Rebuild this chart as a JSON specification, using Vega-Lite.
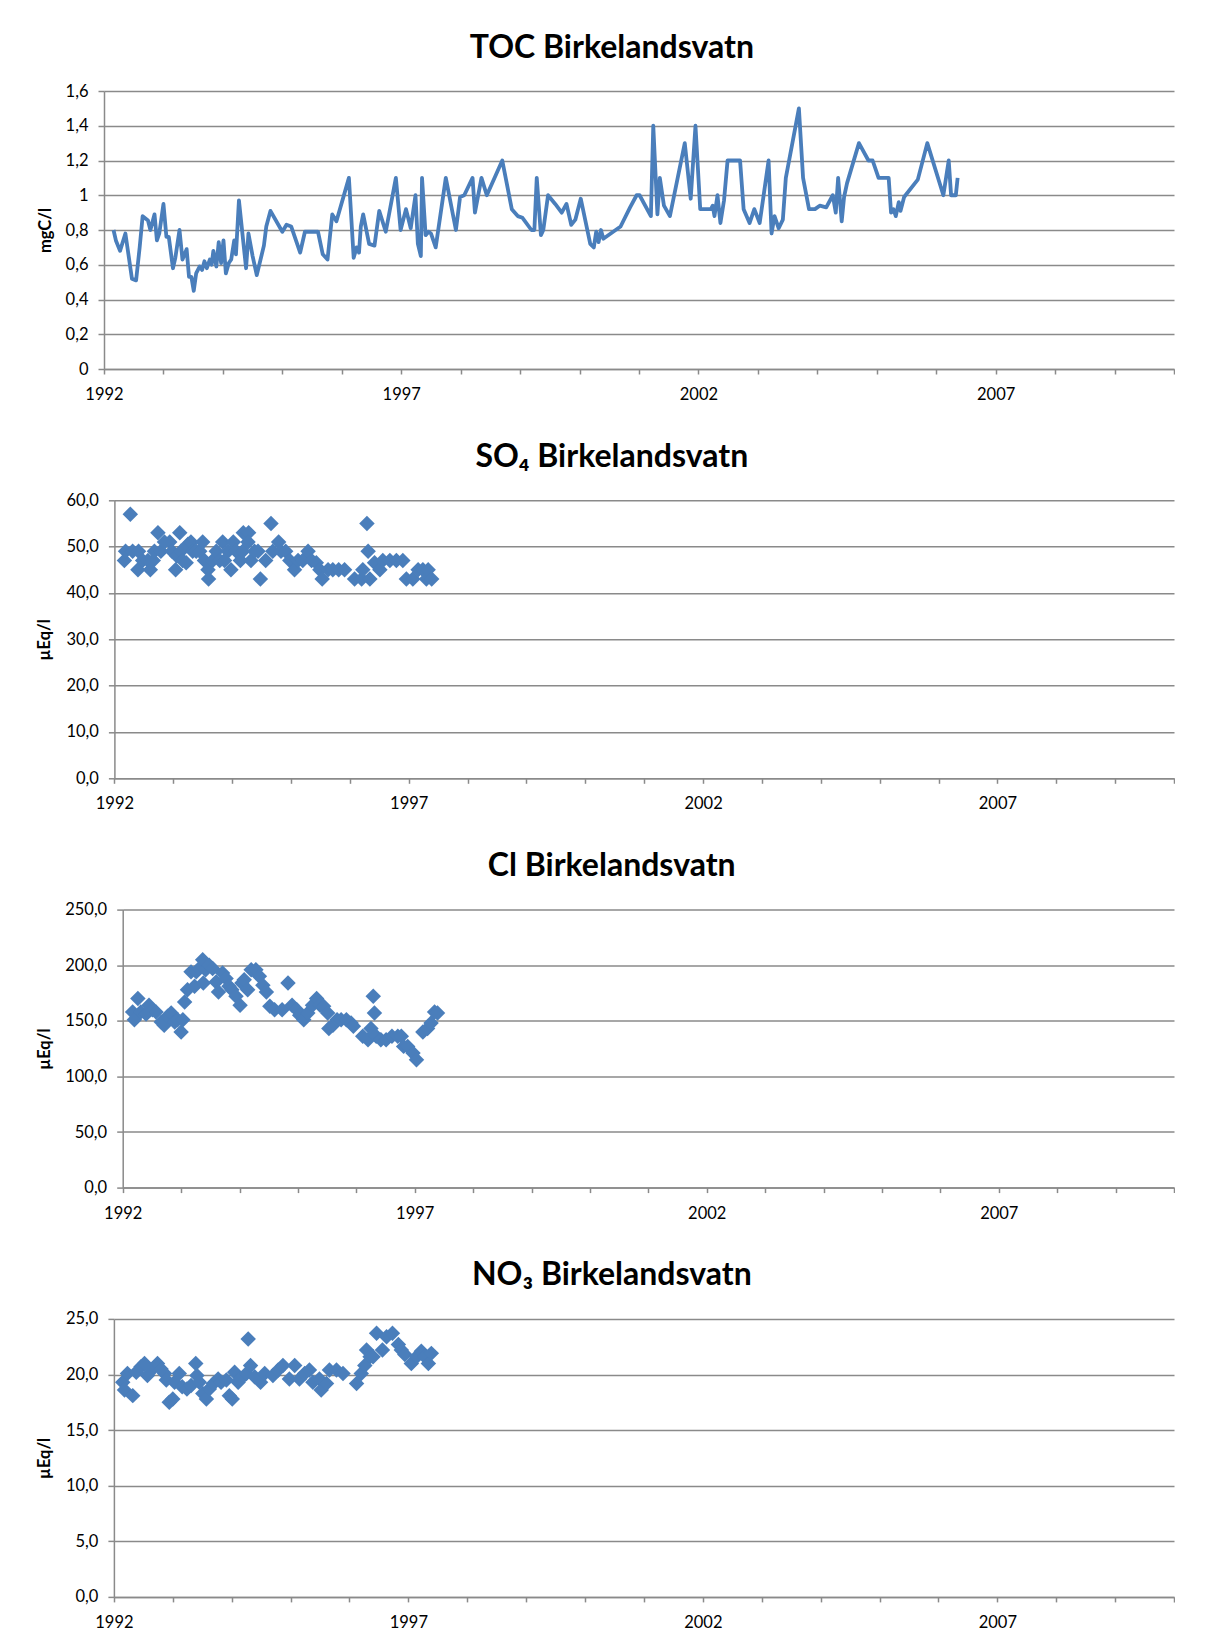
{
  "$schema": "https://vega.github.io/schema/vega-lite/v6.json",
  "background": "white",
  "padding": {"left": 36, "top": 31, "right": 0, "bottom": 0},
  "spacing": 37.3,
  "datasets": {
    "toc": [
      {"year": 1992.16, "value": 0.80}, {"year": 1992.20, "value": 0.74}, {"year": 1992.27, "value": 0.68}, {"year": 1992.36, "value": 0.78},
      {"year": 1992.47, "value": 0.52}, {"year": 1992.54, "value": 0.51}, {"year": 1992.60, "value": 0.70}, {"year": 1992.65, "value": 0.88},
      {"year": 1992.74, "value": 0.855}, {"year": 1992.78, "value": 0.80}, {"year": 1992.85, "value": 0.89}, {"year": 1992.89, "value": 0.74},
      {"year": 1992.93, "value": 0.78}, {"year": 1993.00, "value": 0.95}, {"year": 1993.05, "value": 0.76}, {"year": 1993.09, "value": 0.76},
      {"year": 1993.16, "value": 0.58}, {"year": 1993.20, "value": 0.64}, {"year": 1993.27, "value": 0.80}, {"year": 1993.32, "value": 0.63},
      {"year": 1993.39, "value": 0.69}, {"year": 1993.43, "value": 0.53}, {"year": 1993.47, "value": 0.53}, {"year": 1993.51, "value": 0.45},
      {"year": 1993.55, "value": 0.55}, {"year": 1993.61, "value": 0.59}, {"year": 1993.65, "value": 0.57}, {"year": 1993.69, "value": 0.62},
      {"year": 1993.73, "value": 0.58}, {"year": 1993.78, "value": 0.63}, {"year": 1993.81, "value": 0.60}, {"year": 1993.84, "value": 0.68},
      {"year": 1993.89, "value": 0.59}, {"year": 1993.93, "value": 0.73}, {"year": 1993.97, "value": 0.61}, {"year": 1994.01, "value": 0.74},
      {"year": 1994.05, "value": 0.55}, {"year": 1994.10, "value": 0.61}, {"year": 1994.14, "value": 0.63}, {"year": 1994.19, "value": 0.74},
      {"year": 1994.22, "value": 0.66}, {"year": 1994.27, "value": 0.97}, {"year": 1994.39, "value": 0.58}, {"year": 1994.43, "value": 0.78},
      {"year": 1994.50, "value": 0.65}, {"year": 1994.57, "value": 0.54}, {"year": 1994.69, "value": 0.71}, {"year": 1994.73, "value": 0.82},
      {"year": 1994.80, "value": 0.91}, {"year": 1995.00, "value": 0.79}, {"year": 1995.07, "value": 0.83}, {"year": 1995.15, "value": 0.82},
      {"year": 1995.30, "value": 0.67}, {"year": 1995.38, "value": 0.79}, {"year": 1995.45, "value": 0.79}, {"year": 1995.60, "value": 0.79},
      {"year": 1995.68, "value": 0.66}, {"year": 1995.76, "value": 0.63}, {"year": 1995.84, "value": 0.89}, {"year": 1995.91, "value": 0.85},
      {"year": 1996.12, "value": 1.10}, {"year": 1996.20, "value": 0.64}, {"year": 1996.25, "value": 0.70}, {"year": 1996.29, "value": 0.67},
      {"year": 1996.32, "value": 0.82}, {"year": 1996.36, "value": 0.89}, {"year": 1996.46, "value": 0.72}, {"year": 1996.55, "value": 0.71},
      {"year": 1996.63, "value": 0.91}, {"year": 1996.74, "value": 0.79}, {"year": 1996.91, "value": 1.10}, {"year": 1996.99, "value": 0.80},
      {"year": 1997.08, "value": 0.92}, {"year": 1997.16, "value": 0.81}, {"year": 1997.24, "value": 1.00}, {"year": 1997.28, "value": 0.72},
      {"year": 1997.33, "value": 0.65}, {"year": 1997.35, "value": 1.10}, {"year": 1997.41, "value": 0.77}, {"year": 1997.46, "value": 0.79},
      {"year": 1997.50, "value": 0.78}, {"year": 1997.58, "value": 0.70}, {"year": 1997.75, "value": 1.10}, {"year": 1997.92, "value": 0.80},
      {"year": 1997.99, "value": 0.99}, {"year": 1998.06, "value": 1.00}, {"year": 1998.20, "value": 1.10}, {"year": 1998.24, "value": 0.90},
      {"year": 1998.35, "value": 1.10}, {"year": 1998.44, "value": 1.00}, {"year": 1998.70, "value": 1.20}, {"year": 1998.86, "value": 0.92},
      {"year": 1998.96, "value": 0.88}, {"year": 1999.04, "value": 0.87}, {"year": 1999.19, "value": 0.80}, {"year": 1999.24, "value": 0.80},
      {"year": 1999.28, "value": 1.10}, {"year": 1999.35, "value": 0.77}, {"year": 1999.39, "value": 0.80}, {"year": 1999.47, "value": 1.00},
      {"year": 1999.59, "value": 0.95}, {"year": 1999.70, "value": 0.90}, {"year": 1999.78, "value": 0.95}, {"year": 1999.86, "value": 0.83},
      {"year": 1999.93, "value": 0.86}, {"year": 2000.02, "value": 0.98}, {"year": 2000.18, "value": 0.72}, {"year": 2000.24, "value": 0.70},
      {"year": 2000.28, "value": 0.79}, {"year": 2000.32, "value": 0.73}, {"year": 2000.36, "value": 0.80}, {"year": 2000.40, "value": 0.75},
      {"year": 2000.69, "value": 0.82}, {"year": 2000.85, "value": 0.93}, {"year": 2000.96, "value": 1.00}, {"year": 2001.01, "value": 1.00},
      {"year": 2001.20, "value": 0.88}, {"year": 2001.24, "value": 1.40}, {"year": 2001.31, "value": 0.89}, {"year": 2001.35, "value": 1.10},
      {"year": 2001.42, "value": 0.94}, {"year": 2001.52, "value": 0.88}, {"year": 2001.77, "value": 1.30}, {"year": 2001.87, "value": 0.98},
      {"year": 2001.95, "value": 1.40}, {"year": 2002.03, "value": 0.92}, {"year": 2002.21, "value": 0.92}, {"year": 2002.24, "value": 0.94},
      {"year": 2002.27, "value": 0.88}, {"year": 2002.32, "value": 1.00}, {"year": 2002.37, "value": 0.84}, {"year": 2002.43, "value": 0.97},
      {"year": 2002.49, "value": 1.20}, {"year": 2002.70, "value": 1.20}, {"year": 2002.76, "value": 0.92}, {"year": 2002.86, "value": 0.84},
      {"year": 2002.94, "value": 0.92}, {"year": 2003.03, "value": 0.84}, {"year": 2003.18, "value": 1.20}, {"year": 2003.23, "value": 0.78},
      {"year": 2003.28, "value": 0.88}, {"year": 2003.35, "value": 0.81}, {"year": 2003.42, "value": 0.86}, {"year": 2003.47, "value": 1.10},
      {"year": 2003.69, "value": 1.50}, {"year": 2003.76, "value": 1.10}, {"year": 2003.86, "value": 0.92}, {"year": 2003.96, "value": 0.92},
      {"year": 2004.04, "value": 0.94}, {"year": 2004.15, "value": 0.93}, {"year": 2004.26, "value": 1.00}, {"year": 2004.31, "value": 0.90},
      {"year": 2004.35, "value": 1.10}, {"year": 2004.41, "value": 0.85}, {"year": 2004.45, "value": 0.99}, {"year": 2004.50, "value": 1.07},
      {"year": 2004.70, "value": 1.30}, {"year": 2004.86, "value": 1.20}, {"year": 2004.93, "value": 1.20}, {"year": 2005.03, "value": 1.10},
      {"year": 2005.20, "value": 1.10}, {"year": 2005.24, "value": 0.90}, {"year": 2005.28, "value": 0.92}, {"year": 2005.32, "value": 0.88},
      {"year": 2005.37, "value": 0.96}, {"year": 2005.40, "value": 0.91}, {"year": 2005.46, "value": 0.99}, {"year": 2005.69, "value": 1.09},
      {"year": 2005.85, "value": 1.30}, {"year": 2006.12, "value": 1.00}, {"year": 2006.21, "value": 1.20}, {"year": 2006.25, "value": 1.00},
      {"year": 2006.33, "value": 1.00}, {"year": 2006.36, "value": 1.10}
    ],
    "so4": [
      {"year": 1992.17, "value": 47}, {"year": 1992.27, "value": 57}, {"year": 1992.19, "value": 49}, {"year": 1992.31, "value": 49},
      {"year": 1992.41, "value": 49}, {"year": 1992.40, "value": 45}, {"year": 1992.48, "value": 47}, {"year": 1992.57, "value": 47},
      {"year": 1992.61, "value": 45}, {"year": 1992.66, "value": 47}, {"year": 1992.68, "value": 49}, {"year": 1992.74, "value": 53},
      {"year": 1992.79, "value": 49}, {"year": 1992.85, "value": 51}, {"year": 1992.94, "value": 51}, {"year": 1992.98, "value": 49},
      {"year": 1993.04, "value": 45}, {"year": 1993.06, "value": 48}, {"year": 1993.11, "value": 53}, {"year": 1993.13, "value": 49},
      {"year": 1993.16, "value": 47}, {"year": 1993.22, "value": 46.5}, {"year": 1993.25, "value": 50.5}, {"year": 1993.30, "value": 51},
      {"year": 1993.33, "value": 49}, {"year": 1993.39, "value": 49}, {"year": 1993.45, "value": 49}, {"year": 1993.50, "value": 51},
      {"year": 1993.53, "value": 47}, {"year": 1993.59, "value": 45}, {"year": 1993.60, "value": 43}, {"year": 1993.67, "value": 47},
      {"year": 1993.73, "value": 49}, {"year": 1993.79, "value": 47}, {"year": 1993.84, "value": 51}, {"year": 1993.87, "value": 47},
      {"year": 1993.93, "value": 49}, {"year": 1993.98, "value": 45}, {"year": 1994.02, "value": 51}, {"year": 1994.07, "value": 49},
      {"year": 1994.14, "value": 47}, {"year": 1994.18, "value": 49}, {"year": 1994.19, "value": 53}, {"year": 1994.28, "value": 53},
      {"year": 1994.27, "value": 51}, {"year": 1994.32, "value": 47}, {"year": 1994.38, "value": 49}, {"year": 1994.44, "value": 49},
      {"year": 1994.48, "value": 43}, {"year": 1994.57, "value": 47}, {"year": 1994.66, "value": 55}, {"year": 1994.69, "value": 49},
      {"year": 1994.79, "value": 51}, {"year": 1994.83, "value": 49}, {"year": 1994.91, "value": 49}, {"year": 1994.98, "value": 47},
      {"year": 1995.06, "value": 45}, {"year": 1995.12, "value": 47}, {"year": 1995.20, "value": 47}, {"year": 1995.29, "value": 49},
      {"year": 1995.35, "value": 47}, {"year": 1995.43, "value": 46.5}, {"year": 1995.49, "value": 45}, {"year": 1995.53, "value": 43},
      {"year": 1995.63, "value": 45}, {"year": 1995.71, "value": 45}, {"year": 1995.81, "value": 45}, {"year": 1995.91, "value": 45},
      {"year": 1996.08, "value": 43}, {"year": 1996.20, "value": 43}, {"year": 1996.22, "value": 45}, {"year": 1996.29, "value": 55},
      {"year": 1996.31, "value": 49}, {"year": 1996.34, "value": 43}, {"year": 1996.42, "value": 46.5}, {"year": 1996.51, "value": 45},
      {"year": 1996.56, "value": 47}, {"year": 1996.68, "value": 47}, {"year": 1996.79, "value": 47}, {"year": 1996.90, "value": 47},
      {"year": 1996.96, "value": 43}, {"year": 1997.07, "value": 43}, {"year": 1997.16, "value": 45}, {"year": 1997.24, "value": 45},
      {"year": 1997.30, "value": 43}, {"year": 1997.33, "value": 45}, {"year": 1997.39, "value": 43}
    ],
    "cl": [
      {"year": 1992.17, "value": 158}, {"year": 1992.20, "value": 151}, {"year": 1992.26, "value": 170}, {"year": 1992.31, "value": 158},
      {"year": 1992.40, "value": 156}, {"year": 1992.45, "value": 164}, {"year": 1992.51, "value": 160}, {"year": 1992.57, "value": 158},
      {"year": 1992.66, "value": 149}, {"year": 1992.71, "value": 146}, {"year": 1992.77, "value": 154}, {"year": 1992.83, "value": 157},
      {"year": 1992.89, "value": 149}, {"year": 1992.94, "value": 151}, {"year": 1993.00, "value": 140}, {"year": 1993.03, "value": 151},
      {"year": 1993.06, "value": 167}, {"year": 1993.11, "value": 178}, {"year": 1993.17, "value": 194}, {"year": 1993.23, "value": 181},
      {"year": 1993.26, "value": 194}, {"year": 1993.31, "value": 197}, {"year": 1993.37, "value": 205}, {"year": 1993.38, "value": 184},
      {"year": 1993.42, "value": 196}, {"year": 1993.48, "value": 200}, {"year": 1993.54, "value": 197}, {"year": 1993.60, "value": 185},
      {"year": 1993.64, "value": 176}, {"year": 1993.71, "value": 193}, {"year": 1993.77, "value": 188}, {"year": 1993.82, "value": 181},
      {"year": 1993.87, "value": 178}, {"year": 1993.94, "value": 172}, {"year": 1994.01, "value": 164}, {"year": 1994.04, "value": 184},
      {"year": 1994.08, "value": 187}, {"year": 1994.14, "value": 178}, {"year": 1994.20, "value": 196}, {"year": 1994.28, "value": 196},
      {"year": 1994.34, "value": 190}, {"year": 1994.40, "value": 182}, {"year": 1994.46, "value": 176}, {"year": 1994.52, "value": 163},
      {"year": 1994.60, "value": 160}, {"year": 1994.73, "value": 160}, {"year": 1994.83, "value": 184}, {"year": 1994.90, "value": 164},
      {"year": 1994.98, "value": 160}, {"year": 1995.03, "value": 155}, {"year": 1995.10, "value": 151}, {"year": 1995.17, "value": 157},
      {"year": 1995.25, "value": 164}, {"year": 1995.32, "value": 170}, {"year": 1995.38, "value": 164}, {"year": 1995.44, "value": 163},
      {"year": 1995.51, "value": 157}, {"year": 1995.53, "value": 143}, {"year": 1995.60, "value": 146}, {"year": 1995.67, "value": 151},
      {"year": 1995.74, "value": 151}, {"year": 1995.83, "value": 151}, {"year": 1995.91, "value": 148}, {"year": 1995.95, "value": 145},
      {"year": 1996.11, "value": 136}, {"year": 1996.20, "value": 133}, {"year": 1996.25, "value": 143}, {"year": 1996.29, "value": 172},
      {"year": 1996.31, "value": 157}, {"year": 1996.34, "value": 136}, {"year": 1996.42, "value": 133}, {"year": 1996.51, "value": 133},
      {"year": 1996.61, "value": 136}, {"year": 1996.71, "value": 136}, {"year": 1996.77, "value": 136}, {"year": 1996.81, "value": 127},
      {"year": 1996.88, "value": 127}, {"year": 1996.97, "value": 121}, {"year": 1997.03, "value": 115}, {"year": 1997.14, "value": 140},
      {"year": 1997.22, "value": 143}, {"year": 1997.28, "value": 148}, {"year": 1997.34, "value": 158}, {"year": 1997.39, "value": 157}
    ],
    "no3": [
      {"year": 1992.15, "value": 19.3}, {"year": 1992.18, "value": 18.6}, {"year": 1992.23, "value": 20.1}, {"year": 1992.32, "value": 18.1},
      {"year": 1992.38, "value": 20.2}, {"year": 1992.46, "value": 20.7}, {"year": 1992.52, "value": 21.0}, {"year": 1992.57, "value": 19.9},
      {"year": 1992.66, "value": 20.5}, {"year": 1992.74, "value": 21.0}, {"year": 1992.80, "value": 20.5}, {"year": 1992.86, "value": 20.1},
      {"year": 1992.89, "value": 19.5}, {"year": 1992.94, "value": 17.5}, {"year": 1993.00, "value": 17.8}, {"year": 1993.03, "value": 19.3},
      {"year": 1993.11, "value": 20.1}, {"year": 1993.16, "value": 18.9}, {"year": 1993.24, "value": 18.7}, {"year": 1993.31, "value": 19.0},
      {"year": 1993.39, "value": 21.0}, {"year": 1993.41, "value": 19.9}, {"year": 1993.45, "value": 19.3}, {"year": 1993.51, "value": 18.3},
      {"year": 1993.57, "value": 17.8}, {"year": 1993.62, "value": 18.7}, {"year": 1993.69, "value": 19.2}, {"year": 1993.77, "value": 19.6},
      {"year": 1993.82, "value": 19.3}, {"year": 1993.91, "value": 19.5}, {"year": 1993.96, "value": 18.1}, {"year": 1994.01, "value": 17.8},
      {"year": 1994.05, "value": 20.2}, {"year": 1994.11, "value": 19.3}, {"year": 1994.15, "value": 19.6}, {"year": 1994.25, "value": 20.1},
      {"year": 1994.28, "value": 23.2}, {"year": 1994.32, "value": 20.8}, {"year": 1994.39, "value": 19.8}, {"year": 1994.49, "value": 19.3},
      {"year": 1994.56, "value": 20.1}, {"year": 1994.70, "value": 19.9}, {"year": 1994.79, "value": 20.4}, {"year": 1994.87, "value": 20.8},
      {"year": 1994.98, "value": 19.6}, {"year": 1995.07, "value": 20.8}, {"year": 1995.15, "value": 19.6}, {"year": 1995.24, "value": 20.1},
      {"year": 1995.32, "value": 20.4}, {"year": 1995.38, "value": 19.3}, {"year": 1995.49, "value": 19.6}, {"year": 1995.52, "value": 18.6},
      {"year": 1995.61, "value": 19.2}, {"year": 1995.66, "value": 20.4}, {"year": 1995.78, "value": 20.4}, {"year": 1995.89, "value": 20.1},
      {"year": 1996.12, "value": 19.2}, {"year": 1996.20, "value": 20.1}, {"year": 1996.26, "value": 20.8}, {"year": 1996.29, "value": 22.2},
      {"year": 1996.35, "value": 21.6}, {"year": 1996.40, "value": 21.6}, {"year": 1996.46, "value": 23.7}, {"year": 1996.56, "value": 22.2},
      {"year": 1996.63, "value": 23.4}, {"year": 1996.73, "value": 23.7}, {"year": 1996.83, "value": 22.7}, {"year": 1996.88, "value": 22.2},
      {"year": 1996.94, "value": 21.8}, {"year": 1997.05, "value": 21.0}, {"year": 1997.14, "value": 21.6}, {"year": 1997.22, "value": 22.1},
      {"year": 1997.28, "value": 21.6}, {"year": 1997.34, "value": 21.0}, {"year": 1997.39, "value": 21.9}
    ]
  },
  "config": {
    "font": "Lato",
    "view": {"stroke": null},
    "axis": {
      "domainColor": "#8a8a8a", "domainWidth": 1.5, "tickColor": "#8a8a8a", "tickWidth": 1.5,
      "gridColor": "#8a8a8a", "gridWidth": 1.5, "labelColor": "#000000", "labelFont": "Lato",
      "labelFontSize": 16.5, "titleFont": "Lato", "titleFontSize": 16.5, "titleFontWeight": "bold",
      "titleColor": "#000000", "labelOverlap": false
    },
    "axisX": {"grid": false, "tickSize": 5, "labelPadding": 12.5, "labelFlush": false, "title": null},
    "axisY": {"grid": true, "tickSize": 6, "labelPadding": 10, "minExtent": 40, "maxExtent": 40},
    "title": {"font": "Lato", "fontSize": 32, "fontWeight": "bold", "color": "#000000", "anchor": "middle", "frame": "bounds", "offset": 18.5, "dx": 6}
  },
  "vconcat": [
    {
      "width": 1070, "height": 278,
      "title": "TOC Birkelandsvatn",
      "data": {"name": "toc"},
      "mark": {"type": "line", "color": "#4A7EBB", "strokeWidth": 3.8, "strokeJoin": "round"},
      "encoding": {
        "x": {"field": "year", "type": "quantitative",
          "scale": {"domain": [1992, 2010], "range": [0, 1070], "nice": false, "zero": false},
          "axis": {"values": [1992,1993,1994,1995,1996,1997,1998,1999,2000,2001,2002,2003,2004,2005,2006,2007,2008,2009,2010],
            "labelExpr": "(datum.value - 1992) % 5 == 0 ? '' + datum.value : ''"}},
        "y": {"field": "value", "type": "quantitative",
          "scale": {"domain": [0, 1.6], "nice": false},
          "axis": {"title": "mgC/l", "titlePadding": 11, "values": [0, 0.2, 0.4, 0.6, 0.8, 1, 1.2, 1.4, 1.6],
            "labelExpr": "replace('' + datum.value, '.', ',')"}}
      }
    },
    {
      "width": 1070, "height": 278,
      "title": "SO₄ Birkelandsvatn",
      "data": {"name": "so4"},
      "mark": {"type": "point", "shape": "diamond", "filled": true, "color": "#4A7EBB", "opacity": 1, "size": 240},
      "encoding": {
        "x": {"field": "year", "type": "quantitative",
          "scale": {"domain": [1992, 2010], "range": [10.4, 1070], "nice": false, "zero": false},
          "axis": {"values": [1992,1993,1994,1995,1996,1997,1998,1999,2000,2001,2002,2003,2004,2005,2006,2007,2008,2009,2010],
            "labelExpr": "(datum.value - 1992) % 5 == 0 ? '' + datum.value : ''"}},
        "y": {"field": "value", "type": "quantitative",
          "scale": {"domain": [0, 60], "nice": false},
          "axis": {"title": "µEq/l", "titlePadding": 21.5, "offset": -10.4, "values": [0, 10, 20, 30, 40, 50, 60],
            "labelExpr": "replace(format(datum.value, '.1f'), '.', ',')"}}
      }
    },
    {
      "width": 1070, "height": 278,
      "title": "Cl Birkelandsvatn",
      "data": {"name": "cl"},
      "mark": {"type": "point", "shape": "diamond", "filled": true, "color": "#4A7EBB", "opacity": 1, "size": 240},
      "encoding": {
        "x": {"field": "year", "type": "quantitative",
          "scale": {"domain": [1992, 2010], "range": [18.7, 1070], "nice": false, "zero": false},
          "axis": {"values": [1992,1993,1994,1995,1996,1997,1998,1999,2000,2001,2002,2003,2004,2005,2006,2007,2008,2009,2010],
            "labelExpr": "(datum.value - 1992) % 5 == 0 ? '' + datum.value : ''"}},
        "y": {"field": "value", "type": "quantitative",
          "scale": {"domain": [0, 250], "nice": false},
          "axis": {"title": "µEq/l", "titlePadding": 30, "offset": -18.7, "values": [0, 50, 100, 150, 200, 250],
            "labelExpr": "replace(format(datum.value, '.1f'), '.', ',')"}}
      }
    },
    {
      "width": 1070, "height": 278,
      "title": "NO₃ Birkelandsvatn",
      "data": {"name": "no3"},
      "mark": {"type": "point", "shape": "diamond", "filled": true, "color": "#4A7EBB", "opacity": 1, "size": 240},
      "encoding": {
        "x": {"field": "year", "type": "quantitative",
          "scale": {"domain": [1992, 2010], "range": [9.9, 1070], "nice": false, "zero": false},
          "axis": {"values": [1992,1993,1994,1995,1996,1997,1998,1999,2000,2001,2002,2003,2004,2005,2006,2007,2008,2009,2010],
            "labelExpr": "(datum.value - 1992) % 5 == 0 ? '' + datum.value : ''"}},
        "y": {"field": "value", "type": "quantitative",
          "scale": {"domain": [0, 25], "nice": false},
          "axis": {"title": "µEq/l", "titlePadding": 21, "offset": -9.9, "values": [0, 5, 10, 15, 20, 25],
            "labelExpr": "replace(format(datum.value, '.1f'), '.', ',')"}}
      }
    }
  ]
}
